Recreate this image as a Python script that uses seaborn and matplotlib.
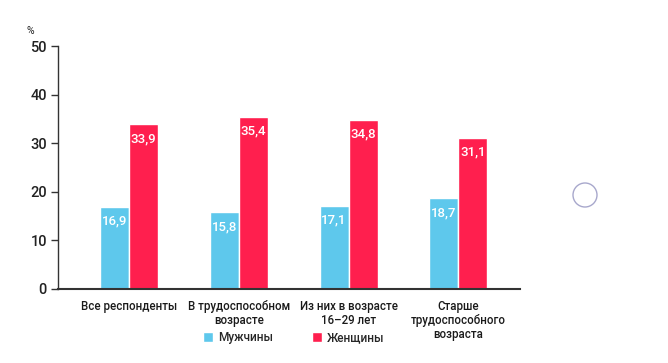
import matplotlib.pyplot as plt
import pandas as pd
import seaborn as sns
from matplotlib.patches import Ellipse

categories = [
    "Все респонденты",
    "В трудоспособном\nвозрасте",
    "Из них в возрасте\n16–29 лет",
    "Старше\nтрудоспособного\nвозраста",
]
men = [16.9, 15.8, 17.1, 18.7]
women = [33.9, 35.4, 34.8, 31.1]
series = ["Мужчины", "Женщины"]
colors = ["#5ec8ec", "#ff1f4e"]
yticks = [0, 10, 20, 30, 40, 50]

df = pd.DataFrame({
    "cat": categories * 2,
    "sex": [series[0]] * 4 + [series[1]] * 4,
    "val": men + women,
})

sns.set_theme(style="white")
plt.rcParams["font.family"] = ["Roboto", "DejaVu Sans"]

fig = plt.figure(figsize=(6.68, 3.63), dpi=100)
ax = fig.add_axes([0.0868, 0.204, 0.6916, 0.669])

sns.barplot(data=df, x="cat", y="val", hue="sex", palette=colors,
            width=0.527, saturation=1, ax=ax, legend=True)

for cont, vals in zip(ax.containers, [men, women]):
    ax.bar_label(cont, labels=[f"{v:.1f}".replace(".", ",") for v in vals],
                 padding=-15, color="white", fontsize=9.5, fontweight="medium")

ax.set_xlim(-0.645, 3.56)
ax.set_ylim(0, 50)
ax.set_yticks(yticks)
ax.set_xlabel("")
ax.set_ylabel("")
ax.tick_params(axis="y", left=True, length=5, width=1, color="#333333",
               labelsize=10.5, pad=3, labelcolor="#222222")
ax.tick_params(axis="x", bottom=False, labelsize=8.3, pad=2, labelcolor="#1a1a1a")
for lbl in ax.get_xticklabels():
    lbl.set_fontweight("medium")
    lbl.set_linespacing(1.12)
for lbl in ax.get_yticklabels():
    lbl.set_fontweight("medium")
for s in ["top", "right"]:
    ax.spines[s].set_visible(False)
ax.spines["left"].set_color("#333333")
ax.spines["left"].set_linewidth(1)
ax.spines["bottom"].set_color("#333333")
ax.spines["bottom"].set_linewidth(1.5)

ax.text(-0.06, 1.04, "%", transform=ax.transAxes, fontsize=7.5,
        ha="center", va="bottom", color="#222222")

sns.move_legend(ax, "center", bbox_to_anchor=(0.51, -0.2), ncol=2,
                frameon=False, title=None, fontsize=8.5, handlelength=0.85,
                handleheight=0.85, columnspacing=3.3, handletextpad=0.4)
for t in ax.get_legend().get_texts():
    t.set_fontweight("medium")

fig.add_artist(Ellipse((585 / 668, 1 - 195 / 363), 24 / 668, 24 / 363,
                       transform=fig.transFigure, fill=False,
                       edgecolor="#a8a8cc", lw=1))

fig.savefig("out.png", dpi=100)
